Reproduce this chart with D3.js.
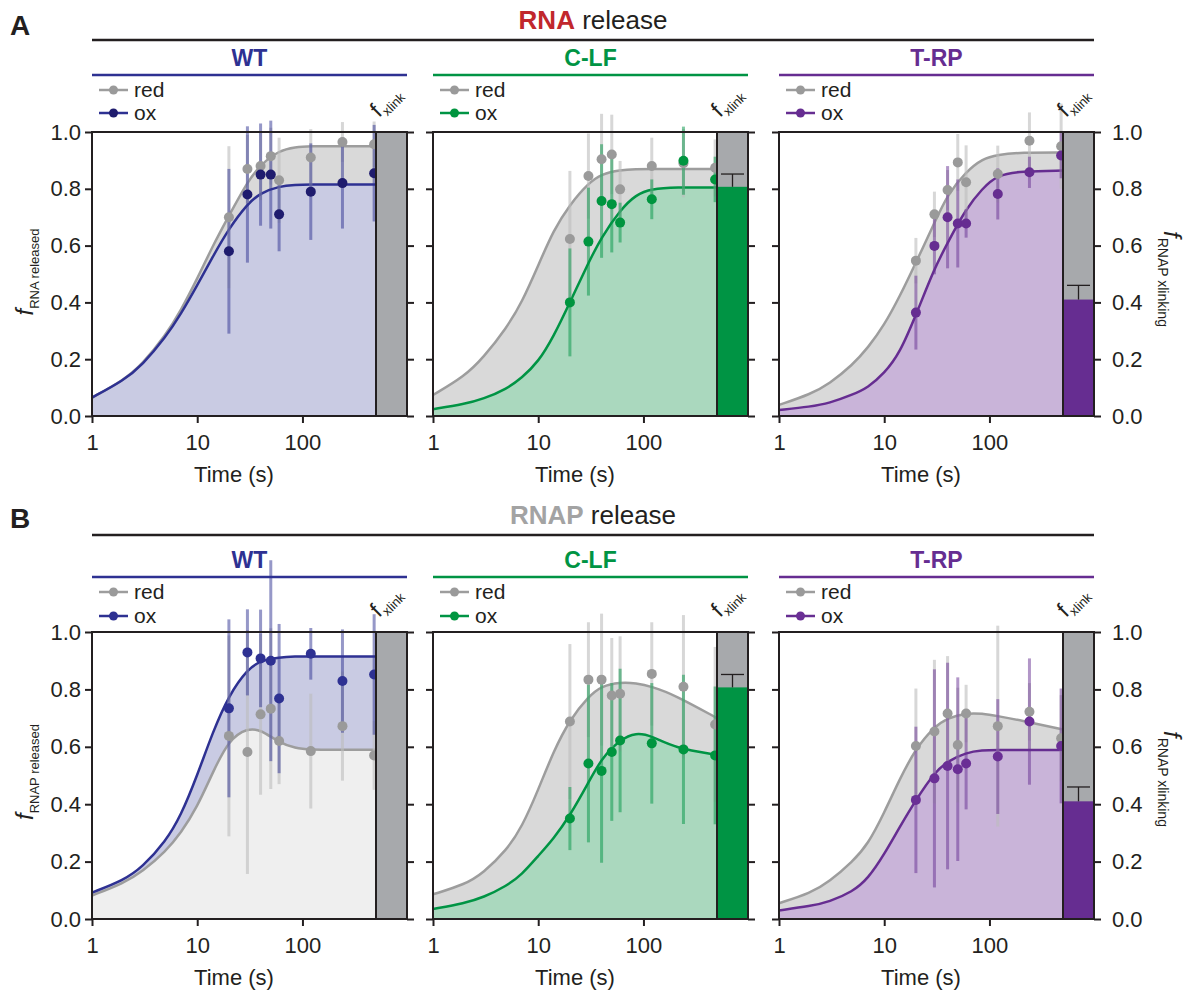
<!DOCTYPE html>
<html>
<head>
<meta charset="utf-8">
<script src="https://cdn.jsdelivr.net/npm/d3@7"></script>
<style>
  body { margin: 0; background: #fff; }
  svg { font-family: "Liberation Sans", Arial, sans-serif; }
</style>
</head>
<body>
<svg id="fig" width="1190" height="991"></svg>
<script>
'use strict'
// sampling times of the measured points and of the fitted curves (s)
const times = [20, 30, 40, 50, 60, 120, 240, 480];
const fitTimes = [1, 2, 3, 5, 7, 10, 14, 20, 30, 40, 60, 85, 120, 200, 500];
const xTicks = [1, 10, 100];
const yTicks = [0, 0.2, 0.4, 0.6, 0.8, 1.0];
const groups = ["WT", "C-LF", "T-RP"];

// A: RNA release
const rnaWtRed = [0.70, 0.87, 0.88, 0.915, 0.83, 0.91, 0.965, 0.957];
const rnaWtRedErr = [0.25, 0.12, 0.12, 0.10, 0.15, 0.10, 0.07, 0.08];
const rnaWtOx = [0.58, 0.78, 0.85, 0.85, 0.71, 0.79, 0.82, 0.855];
const rnaWtOxErr = [0.29, 0.24, 0.18, 0.19, 0.13, 0.17, 0.16, 0.17];
const rnaWtRedFit = [0.065, 0.126, 0.182, 0.284, 0.372, 0.483, 0.598, 0.705, 0.825, 0.885, 0.935, 0.947, 0.95, 0.95, 0.95];
const rnaWtOxFit = [0.065, 0.125, 0.179, 0.277, 0.359, 0.46, 0.56, 0.66, 0.747, 0.786, 0.809, 0.814, 0.815, 0.815, 0.815];

const rnaClfRed = [0.623, 0.845, 0.904, 0.921, 0.798, 0.88, 0.89, 0.874];
const rnaClfRedErr = [0.24, 0.15, 0.16, 0.14, 0.10, 0.10, 0.12, 0.10];
const rnaClfOx = [0.40, 0.614, 0.757, 0.746, 0.681, 0.763, 0.899, 0.833];
const rnaClfOxErr = [0.19, 0.19, 0.20, 0.17, 0.07, 0.07, 0.12, 0.08];
const rnaClfRedFit = [0.074, 0.14, 0.205, 0.31, 0.40, 0.53, 0.655, 0.745, 0.82, 0.852, 0.866, 0.869, 0.87, 0.87, 0.87];
const rnaClfOxFit = [0.024, 0.042, 0.06, 0.095, 0.135, 0.19, 0.28, 0.40, 0.54, 0.63, 0.725, 0.78, 0.80, 0.805, 0.805];

const rnaTrpRed = [0.547, 0.71, 0.796, 0.893, 0.823, 0.852, 0.969, 0.95];
const rnaTrpRedErr = [0.08, 0.08, 0.07, 0.10, 0.13, 0.10, 0.10, 0.15];
const rnaTrpOx = [0.364, 0.599, 0.70, 0.678, 0.678, 0.782, 0.858, 0.917];
const rnaTrpOxErr = [0.13, 0.10, 0.18, 0.155, 0.05, 0.09, 0.055, 0.08];
const rnaTrpRedFit = [0.039, 0.077, 0.113, 0.18, 0.24, 0.32, 0.42, 0.54, 0.68, 0.78, 0.86, 0.905, 0.92, 0.928, 0.928];
const rnaTrpOxFit = [0.021, 0.033, 0.045, 0.075, 0.10, 0.15, 0.22, 0.355, 0.52, 0.61, 0.73, 0.80, 0.85, 0.862, 0.864];

// B: RNAP release
const rnapWtRed = [0.638, 0.582, 0.713, 0.733, 0.62, 0.585, 0.672, 0.57];
const rnapWtRedErr = [0.35, 0.425, 0.28, 0.28, 0.15, 0.20, 0.19, 0.12];
const rnapWtOx = [0.734, 0.929, 0.908, 0.90, 0.768, 0.924, 0.829, 0.852];
const rnapWtOxErr = [0.31, 0.15, 0.17, 0.35, 0.26, 0.09, 0.18, 0.21];
const rnapWtRedFit = [0.082, 0.125, 0.165, 0.235, 0.30, 0.39, 0.51, 0.625, 0.665, 0.66, 0.615, 0.595, 0.59, 0.59, 0.59];
const rnapWtOxFit = [0.092, 0.135, 0.18, 0.27, 0.36, 0.50, 0.65, 0.78, 0.87, 0.90, 0.912, 0.915, 0.915, 0.915, 0.915];

const rnapClfRed = [0.688, 0.834, 0.834, 0.779, 0.785, 0.854, 0.809, 0.678];
const rnapClfRedErr = [0.27, 0.20, 0.23, 0.20, 0.20, 0.18, 0.25, 0.27];
const rnapClfOx = [0.35, 0.542, 0.516, 0.582, 0.622, 0.612, 0.591, 0.57];
const rnapClfOxErr = [0.11, 0.275, 0.32, 0.24, 0.25, 0.21, 0.26, 0.24];
const rnapClfRedFit = [0.086, 0.12, 0.16, 0.24, 0.32, 0.45, 0.585, 0.695, 0.775, 0.812, 0.825, 0.822, 0.81, 0.78, 0.70];
const rnapClfOxFit = [0.035, 0.055, 0.075, 0.115, 0.155, 0.22, 0.28, 0.36, 0.475, 0.56, 0.625, 0.65, 0.638, 0.595, 0.572];

const rnapTrpRed = [0.603, 0.653, 0.716, 0.606, 0.716, 0.672, 0.722, 0.63];
const rnapTrpRedErr = [0.20, 0.25, 0.20, 0.20, 0.10, 0.35, 0.10, 0.15];
const rnapTrpOx = [0.415, 0.49, 0.533, 0.522, 0.542, 0.566, 0.688, 0.603];
const rnapTrpOxErr = [0.255, 0.38, 0.36, 0.32, 0.16, 0.20, 0.22, 0.20];
const rnapTrpRedFit = [0.055, 0.09, 0.13, 0.20, 0.26, 0.37, 0.487, 0.595, 0.67, 0.70, 0.718, 0.716, 0.707, 0.692, 0.66];
const rnapTrpOxFit = [0.03, 0.045, 0.06, 0.095, 0.14, 0.225, 0.32, 0.415, 0.51, 0.55, 0.58, 0.588, 0.589, 0.589, 0.589];

// fraction of RNAP crosslinked (xlink bar), per group
const xlinkMean = [0, 0.807, 0.41];
const xlinkErr = [0, 0.045, 0.05];

// styling
const ink = "#231f20";
const grayLine = "#9d9d9d";
const grayDot = "#9a9a9a";
const grayFill = "#d9d9d9";
const paleFill = "#efefef";
const barGray = "#a7a9ac";
const groupColors = ["#2e3192", "#009444", "#662d91"];
const groupLight = ["#c9cbe3", "#aad8be", "#c9b4d9"];
const lefts = [92, 433, 779];
const plotW = 284, barW = 31;

const rows = [
  { letter: "A", key: "RNA", keyColor: "#c1272d", ylab: "RNA released",
    top: 132, h: 284, letterY: 35, titleY: 29, lineY: 40, subY: 66, subLineY: 75, redY: 90, oxY: 113,
    oxDot: ["#1f1c6e", "#00953f", "#662d91"],
    panels: [
      { red: rnaWtRed, redErr: rnaWtRedErr, ox: rnaWtOx, oxErr: rnaWtOxErr, redFit: rnaWtRedFit, oxFit: rnaWtOxFit },
      { red: rnaClfRed, redErr: rnaClfRedErr, ox: rnaClfOx, oxErr: rnaClfOxErr, redFit: rnaClfRedFit, oxFit: rnaClfOxFit },
      { red: rnaTrpRed, redErr: rnaTrpRedErr, ox: rnaTrpOx, oxErr: rnaTrpOxErr, redFit: rnaTrpRedFit, oxFit: rnaTrpOxFit }
    ] },
  { letter: "B", key: "RNAP", keyColor: "#a3a3a3", ylab: "RNAP released",
    top: 632, h: 287, letterY: 528, titleY: 524, lineY: 535, subY: 568, subLineY: 577, redY: 592, oxY: 616,
    oxDot: ["#2e3192", "#00953f", "#6a2f95"],
    panels: [
      { red: rnapWtRed, redErr: rnapWtRedErr, ox: rnapWtOx, oxErr: rnapWtOxErr, redFit: rnapWtRedFit, oxFit: rnapWtOxFit },
      { red: rnapClfRed, redErr: rnapClfRedErr, ox: rnapClfOx, oxErr: rnapClfOxErr, redFit: rnapClfRedFit, oxFit: rnapClfOxFit },
      { red: rnapTrpRed, redErr: rnapTrpRedErr, ox: rnapTrpOx, oxErr: rnapTrpOxErr, redFit: rnapTrpRedFit, oxFit: rnapTrpOxFit }
    ] }
];

const svg = d3.select("#fig");

function styleAxis(g, size) {
  g.select(".domain").remove();
  g.attr("font-family", null).attr("font-size", size);
  g.selectAll(".tick line").attr("stroke", ink).attr("stroke-width", 2);
  g.selectAll(".tick text").attr("fill", ink);
}

function drawPanel(row, p, i) {
  const left = lefts[i], top = row.top, h = row.h;
  const barX = left + plotW;
  const color = groupColors[i];
  const x = d3.scaleLog().domain([1, 500]).range([left, barX]);
  const y = d3.scaleLinear().domain([0, 1]).range([top + h, top]);
  const g = svg.append("g");

  const redPts = fitTimes.map((t, k) => [t, p.redFit[k]]);
  const oxPts = fitTimes.map((t, k) => [t, p.oxFit[k]]);
  const area = d3.area().x(d => x(d[0])).y0(y(0)).y1(d => y(d[1])).curve(d3.curveBasis);
  const line = d3.line().x(d => x(d[0])).y(d => y(d[1])).curve(d3.curveBasis);

  // fills: whichever curve is lower keeps its own colour, the gap between them is the other one
  const redOnTop = d3.mean(p.redFit) > d3.mean(p.oxFit);
  if (redOnTop) {
    g.append("path").attr("d", area(redPts)).attr("fill", grayFill);
    g.append("path").attr("d", area(oxPts)).attr("fill", groupLight[i]);
  } else {
    g.append("path").attr("d", area(oxPts)).attr("fill", groupLight[i]);
    g.append("path").attr("d", area(redPts)).attr("fill", paleFill);
  }
  g.append("path").attr("d", line(redPts)).attr("fill", "none").attr("stroke", grayLine).attr("stroke-width", 2.5);
  g.append("path").attr("d", line(oxPts)).attr("fill", "none").attr("stroke", color).attr("stroke-width", 2.5);

  // error bars
  g.selectAll(".errRed").data(times).enter().append("line")
    .attr("x1", d => x(d)).attr("x2", d => x(d))
    .attr("y1", (d, k) => y(p.red[k] - p.redErr[k])).attr("y2", (d, k) => y(p.red[k] + p.redErr[k]))
    .attr("stroke", "#bdbdbd").attr("stroke-opacity", 0.6).attr("stroke-width", 3);
  g.selectAll(".errOx").data(times).enter().append("line")
    .attr("x1", d => x(d)).attr("x2", d => x(d))
    .attr("y1", (d, k) => y(p.ox[k] - p.oxErr[k])).attr("y2", (d, k) => y(p.ox[k] + p.oxErr[k]))
    .attr("stroke", color).attr("stroke-opacity", 0.5).attr("stroke-width", 3);

  // points
  g.selectAll(".dotRed").data(times).enter().append("circle")
    .attr("cx", d => x(d)).attr("cy", (d, k) => y(p.red[k])).attr("r", 5).attr("fill", grayDot);
  g.selectAll(".dotOx").data(times).enter().append("circle")
    .attr("cx", d => x(d)).attr("cy", (d, k) => y(p.ox[k])).attr("r", 5).attr("fill", row.oxDot[i]);

  // xlink bar
  g.append("rect").attr("x", barX).attr("y", y(1)).attr("width", barW).attr("height", y(0) - y(1)).attr("fill", barGray);
  if (xlinkMean[i] > 0) {
    g.append("rect").attr("x", barX).attr("y", y(xlinkMean[i])).attr("width", barW)
      .attr("height", y(0) - y(xlinkMean[i])).attr("fill", color);
    const ye = y(xlinkMean[i] + xlinkErr[i]);
    g.append("line").attr("x1", barX + barW / 2).attr("x2", barX + barW / 2)
      .attr("y1", y(xlinkMean[i])).attr("y2", ye).attr("stroke", ink).attr("stroke-width", 1.3);
    g.append("line").attr("x1", barX + 4).attr("x2", barX + barW - 4)
      .attr("y1", ye).attr("y2", ye).attr("stroke", ink).attr("stroke-width", 1.3);
  }

  // frame
  g.append("rect").attr("x", left).attr("y", top).attr("width", plotW + barW).attr("height", h)
    .attr("fill", "none").attr("stroke", ink).attr("stroke-width", 2);
  g.append("line").attr("x1", barX).attr("x2", barX).attr("y1", top).attr("y2", top + h)
    .attr("stroke", ink).attr("stroke-width", 2);

  // axes
  g.append("g").attr("transform", `translate(${left},0)`)
    .call(d3.axisLeft(y).tickValues(yTicks).tickSize(7).tickPadding(4)
      .tickFormat(i === 0 ? d3.format(".1f") : ""))
    .call(a => styleAxis(a, 22));
  g.append("g").attr("transform", `translate(${barX + barW},0)`)
    .call(d3.axisRight(y).tickValues(yTicks).tickSize(7).tickPadding(11)
      .tickFormat(i === 2 ? d3.format(".1f") : ""))
    .call(a => styleAxis(a, 22));
  g.append("g").attr("transform", `translate(0,${top + h})`)
    .call(d3.axisBottom(x).tickValues(xTicks).tickSize(7).tickPadding(11).tickFormat(d3.format("d")))
    .call(a => styleAxis(a, 22));
  g.append("text").attr("x", left + plotW / 2).attr("y", top + h + 66).attr("text-anchor", "middle")
    .attr("font-size", 22).attr("fill", ink).text("Time (s)");

  // group header
  g.append("text").attr("x", left + (plotW + barW) / 2).attr("y", row.subY).attr("text-anchor", "middle")
    .attr("font-size", 23).attr("font-weight", "bold").attr("fill", color).text(groups[i]);
  g.append("line").attr("x1", left).attr("x2", left + plotW + barW).attr("y1", row.subLineY).attr("y2", row.subLineY)
    .attr("stroke", color).attr("stroke-width", 2.5);

  // legend
  const legend = g.selectAll(".leg").data(["red", "ox"]).enter().append("g")
    .attr("transform", (d, k) => `translate(${left + 7},${k === 0 ? row.redY : row.oxY})`);
  legend.append("line").attr("x1", 0).attr("x2", 29).attr("stroke", (d, k) => k === 0 ? grayLine : color).attr("stroke-width", 2.5);
  legend.append("circle").attr("cx", 14.5).attr("r", 4.5).attr("fill", (d, k) => k === 0 ? grayDot : row.oxDot[i]);
  legend.append("text").attr("x", 35).attr("dy", "0.35em").attr("font-size", 21).attr("fill", ink).text(d => d);

  // f_xlink label, tilted
  const fxg = g.append("g").attr("transform", `translate(${barX + 3},${top - 14}) rotate(-45)`);
  const fx = fxg.append("text").attr("x", 0).attr("y", 0).attr("font-size", 22).attr("fill", ink);
  fx.append("tspan").text("f");
  fx.append("tspan").attr("font-size", 13).attr("dx", 1).attr("dy", 5).text("xlink");
}

rows.forEach(row => {
  svg.append("text").attr("x", 10).attr("y", row.letterY).attr("font-size", 28).attr("font-weight", "bold")
    .attr("fill", ink).text(row.letter);
  const title = svg.append("text").attr("x", 593).attr("y", row.titleY).attr("text-anchor", "middle")
    .attr("font-size", 26).attr("fill", ink);
  title.append("tspan").attr("font-weight", "bold").attr("fill", row.keyColor).text(row.key);
  title.append("tspan").text(" release");
  svg.append("line").attr("x1", lefts[0]).attr("x2", lefts[2] + plotW + barW)
    .attr("y1", row.lineY).attr("y2", row.lineY).attr("stroke", ink).attr("stroke-width", 2.5);

  row.panels.forEach((p, i) => drawPanel(row, p, i));

  // left y label
  const yl = svg.append("text").attr("transform", `translate(33,${row.top + 140}) rotate(-90)`)
    .attr("text-anchor", "middle").attr("fill", ink);
  yl.append("tspan").attr("font-size", 24).attr("font-style", "italic").text("f");
  yl.append("tspan").attr("font-size", 13).attr("dy", 6).text(row.ylab);

  // right y label
  const yr = svg.append("text").attr("transform", `translate(1164,${row.top + 147}) rotate(90)`)
    .attr("text-anchor", "middle").attr("fill", ink);
  yr.append("tspan").attr("font-size", 24).attr("font-style", "italic").text("f");
  yr.append("tspan").attr("font-size", 14).attr("dy", 6).text("RNAP xlinking");
});
</script>
</body>
</html>
